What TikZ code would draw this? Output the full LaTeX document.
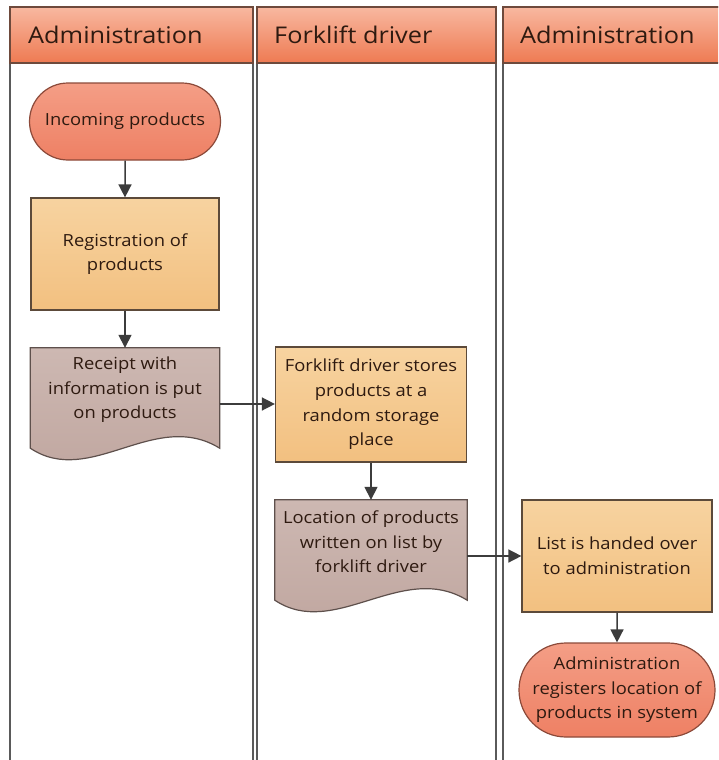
\documentclass[tikz,border=0pt]{standalone}
\usepackage{fontspec}
\setmainfont{Open Sans}[FakeStretch=1.1]
\usetikzlibrary{arrows.meta,shapes.misc,calc}
\definecolor{lanegray}{HTML}{5A5A5A}
\definecolor{headborder}{HTML}{6E4A3C}
\definecolor{headtop}{HTML}{F8B8A0}
\definecolor{headbot}{HTML}{EE7A52}
\definecolor{txt}{HTML}{2E1A10}
\definecolor{termborder}{HTML}{8C4A3A}
\definecolor{termtop}{HTML}{F49E86}
\definecolor{termbot}{HTML}{EE8064}
\definecolor{procborder}{HTML}{5C4A3A}
\definecolor{proctop}{HTML}{F7D3A0}
\definecolor{procbot}{HTML}{F2C080}
\definecolor{docborder}{HTML}{5E504C}
\definecolor{doctop}{HTML}{CDB8B2}
\definecolor{docbot}{HTML}{BFA59E}
\definecolor{arrowgray}{HTML}{3C3C3C}
\newcommand\wavydoc[1]{%
  \path[docfill] (#1.north west) -- (#1.north east) -- ($(#1.south east)+(0,-12)$)
    .. controls ($(#1.south east)+(-65,-52)$) and ($(#1.south west)+(60,28)$) ..
    ($(#1.south west)+(0,-12)$) -- cycle;}
\begin{document}
\begin{tikzpicture}[x=1pt,y=-1pt,
  lane/.style={draw=lanegray,line width=1.4pt,fill=white},
  head/.style={draw=headborder,line width=1.2pt,top color=headtop,bottom color=headbot},
  headtext/.style={anchor=base west,text=txt,font=\fontsize{23}{27}\selectfont,inner sep=0pt},
  body/.style={text=txt,font=\fontsize{16.7}{24.6}\selectfont,align=center},
  terminal/.style={rounded rectangle,draw=termborder,line width=1.2pt,top color=termtop,bottom color=termbot,body,inner sep=0pt},
  process/.style={rectangle,draw=procborder,line width=1.2pt,top color=proctop,bottom color=procbot,body,inner sep=0pt},
  docbox/.style={rectangle,inner sep=0pt},
  docfill/.style={draw=docborder,line width=1.2pt,top color=doctop,bottom color=docbot},
  flow/.style={draw=arrowgray,line width=1.5pt,-{Triangle[width=13pt,length=13pt]}}
]
\useasboundingbox (0,0) rectangle (718,760);
\clip (0,0) rectangle (718,760);
% lanes
\path[lane] (10,7) rectangle (253,775);
\path[lane] (257,7) rectangle (496,775);
\path[lane] (503,7) rectangle (740,775);
\path[head] (10,7) rectangle (253,63);
\path[head] (257,7) rectangle (496,63);
\path[head] (503,7) rectangle (740,63);
\node[headtext] (h1) at (28,44) {Administration};
\node[headtext] (h2) at (274,44) {Forklift driver};
\node[headtext] (h3) at (520,44) {Administration};
% shapes
\node[terminal,minimum width=191pt,minimum height=77pt] (inc) at (125,121.5) {Incoming products};
\node[process,minimum width=188pt,minimum height=112pt] (reg) at (125,254) {Registration of\\products};
\node[docbox,minimum width=189pt,minimum height=112pt] (doc1) at (125,404) {};
\wavydoc{doc1}
\node[body] (doc1t) at ($(doc1)+(0,-14)$) {Receipt with\\information is put\\on products};
\node[process,minimum width=191pt,minimum height=115pt] (fork) at (371,404.5) {Forklift driver stores\\products at a\\random storage\\place};
\node[docbox,minimum width=192pt,minimum height=112pt] (doc2) at (371,556) {};
\wavydoc{doc2}
\node[body] (doc2t) at ($(doc2)+(0,-14)$) {Location of products\\written on list by\\forklift driver};
\node[process,minimum width=190pt,minimum height=112pt] (list) at (617,556) {List is handed over\\to administration};
\node[terminal,minimum width=193pt,minimum height=94pt] (fin) at (617,690) {Administration\\registers location of\\products in system};
% connectors
\draw[flow] (inc) -- (reg);
\draw[flow] (reg) -- (doc1);
\draw[flow] (doc1.east) -- (doc1.east -| fork.west);
\draw[flow] (fork) -- (doc2);
\draw[flow] (doc2.east) -- (doc2.east -| list.west);
\draw[flow] (list) -- (fin);
\end{tikzpicture}
\end{document}
